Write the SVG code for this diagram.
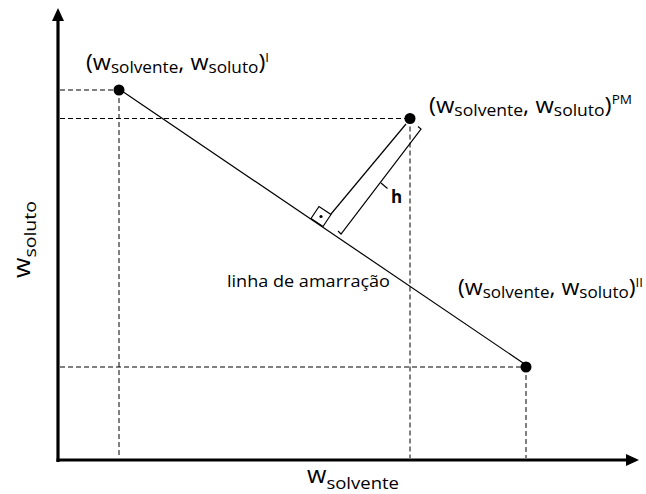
<svg xmlns="http://www.w3.org/2000/svg" width="646" height="494" viewBox="0 0 646 494">
  <style>
    .t { font-family: "Open Sans", "Noto Sans", "Liberation Sans", sans-serif; fill: #000; }
    .lab { font-size: 21px; }
    .sub { font-size: 15.5px; }
    .sup { font-size: 12px; }
    .ax { font-size: 23px; }
    .axsub { font-size: 17px; }
    .dash { stroke: #000; stroke-width: 1; stroke-dasharray: 5 3; fill: none; }
    .thin { stroke: #000; stroke-width: 1.2; fill: none; }
    .axis { stroke: #000; stroke-width: 3.2; fill: none; }
    .dot { fill: #000; }
  </style>

  <g id="guides">
    <path class="dash" d="M60 90 H119 M119 90 V458"/>
    <path class="dash" d="M60 118.5 H410 M410 118.5 V458"/>
    <path class="dash" d="M60 367 H526 M526 367 V458"/>
  </g>

  <g id="axes">
    <path class="axis" d="M58 462 V20"/>
    <path class="axis" d="M56.5 460 H627"/>
    <polygon points="58,8 52,21 64,21" fill="#000"/>
    <polygon points="639,460 626,454 626,466" fill="#000"/>
    <text class="t ax" x="307" y="483" textLength="92" lengthAdjust="spacingAndGlyphs">w<tspan class="axsub" dy="6">solvente</tspan></text>
    <text class="t ax" transform="translate(29.5,278) rotate(-90)" x="0" y="0" textLength="77" lengthAdjust="spacingAndGlyphs">w<tspan class="axsub" dy="6">soluto</tspan></text>
  </g>

  <g id="connectors">
    <line id="tie-line" class="thin" x1="119" y1="89" x2="526" y2="365"/>
    <line id="perpendicular" class="thin" x1="331" y1="214" x2="406" y2="124"/>
    <g id="right-angle">
      <polygon class="thin" points="311,218.5 323,226.5 331,214.5 319,206.5"/>
      <circle cx="321" cy="216.5" r="1.6" fill="#000"/>
    </g>
    <g id="h-dimension">
      <path class="thin" d="M338 231 L341 234 L421 129 L418 126.5"/>
      <line class="thin" x1="381" y1="183" x2="387.5" y2="188.5"/>
    </g>
  </g>

  <g id="point-I">
    <circle class="dot" cx="119" cy="90" r="5.5"/>
    <text class="t lab" x="86" y="70" textLength="183" lengthAdjust="spacingAndGlyphs">(w<tspan class="sub" dy="3">solvente</tspan><tspan dy="-3">, w</tspan><tspan class="sub" dy="3">soluto</tspan><tspan dy="-3">)</tspan><tspan class="sup" dy="-8">I</tspan></text>
  </g>

  <g id="point-PM">
    <circle class="dot" cx="410" cy="118.5" r="5.5"/>
    <text class="t lab" x="429" y="113" textLength="203" lengthAdjust="spacingAndGlyphs">(w<tspan class="sub" dy="3">solvente</tspan><tspan dy="-3">, w</tspan><tspan class="sub" dy="3">soluto</tspan><tspan dy="-3">)</tspan><tspan class="sup" dy="-9">PM</tspan></text>
  </g>

  <g id="point-II">
    <circle class="dot" cx="526" cy="367" r="5.5"/>
    <text class="t lab" x="458" y="295" textLength="185" lengthAdjust="spacingAndGlyphs">(w<tspan class="sub" dy="3">solvente</tspan><tspan dy="-3">, w</tspan><tspan class="sub" dy="3">soluto</tspan><tspan dy="-3">)</tspan><tspan class="sup" dy="-8">II</tspan></text>
  </g>

  <g id="labels">
    <text class="t" x="227" y="287" font-size="15.5" textLength="163" lengthAdjust="spacingAndGlyphs">linha de amarração</text>
    <text class="t" x="391" y="203" font-size="17" font-weight="bold">h</text>
  </g>
</svg>
